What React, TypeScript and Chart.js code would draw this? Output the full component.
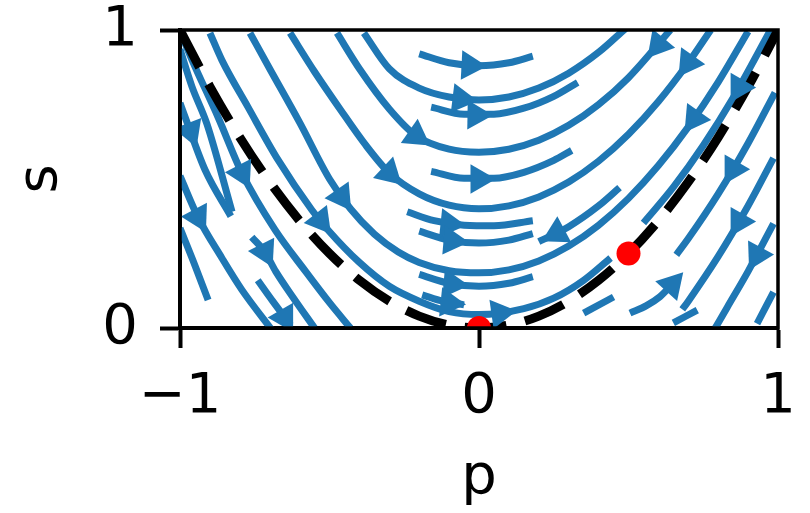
import React, { useEffect, useRef } from 'react';
import { Chart, registerables } from 'chart.js';

Chart.register(...registerables);

type Pt = [number, number];

// ---- axes ----
const xTickValues = [-1, 0, 1];
const xTickLabels = ['−1', '0', '1'];
const yTickValues = [0, 1];
const yTickLabels = ['0', '1'];
const xTitle = 'p';
const yTitle = 's';

// ---- dashed boundary s = p^2 ----
const boundary: Pt[] = [
  [-1, 1], [-0.9, 0.81], [-0.8, 0.64], [-0.7, 0.49], [-0.6, 0.36], [-0.5, 0.25],
  [-0.4, 0.16], [-0.3, 0.09], [-0.2, 0.04], [-0.1, 0.01], [0, 0], [0.1, 0.01],
  [0.2, 0.04], [0.3, 0.09], [0.4, 0.16], [0.5, 0.25], [0.6, 0.36], [0.7, 0.49],
  [0.8, 0.64], [0.9, 0.81], [1, 1],
];

// ---- fixed points (red) ----
const fixedPoints: Pt[] = [[0, 0], [0.5, 0.25]];

// ---- streamline segments (left, outside the boundary) ----
const OLA: Pt[] = [[-1, 0.935], [-0.96, 0.81], [-0.91, 0.685], [-0.826, 0.39]];
const OLB: Pt[] = [[-0.985, 0.96], [-0.96, 0.9], [-0.873, 0.708], [-0.793, 0.52], [-0.682, 0.329], [-0.58, 0.19], [-0.5, 0.085], [-0.43, 0.0]];
const OL5: Pt[] = [[-1, 0.755], [-0.983, 0.708], [-0.916, 0.53], [-0.83, 0.375]];
const OL6: Pt[] = [[-1, 0.51], [-0.94, 0.372], [-0.86, 0.235], [-0.793, 0.128], [-0.69, -0.01]];
const OL7: Pt[] = [[-1, 0.335], [-0.95, 0.21], [-0.906, 0.094]];
const OL4: Pt[] = [[-0.76, 0.305], [-0.716, 0.255], [-0.68, 0.19], [-0.62, 0.1], [-0.55, 0.0]];
const OL8: Pt[] = [[-0.74, 0.16], [-0.69, 0.09], [-0.63, 0.01]];

// ---- inside the boundary: long arcs ----
const U1: Pt[] = [[-0.385, 0.99], [-0.3, 0.87], [-0.2, 0.805], [-0.1, 0.775], [0, 0.765], [0.1, 0.775], [0.2, 0.805], [0.3, 0.855], [0.4, 0.925], [0.49, 1.005]];
const U2: Pt[] = [[-0.475, 0.99], [-0.4, 0.87], [-0.3, 0.735], [-0.21, 0.645], [-0.1, 0.6], [0, 0.59], [0.1, 0.6], [0.2, 0.63], [0.3, 0.68], [0.4, 0.75], [0.5, 0.84], [0.64, 1.0]];
const U3: Pt[] = [[-0.632, 0.99], [-0.55, 0.86], [-0.465, 0.735], [-0.38, 0.615], [-0.3, 0.52], [-0.2, 0.45], [-0.1, 0.412], [0, 0.4], [0.1, 0.41], [0.2, 0.44], [0.3, 0.49], [0.4, 0.56], [0.5, 0.65], [0.6, 0.76], [0.7, 0.89], [0.775, 1.0]];
const U4: Pt[] = [[-0.766, 0.99], [-0.7, 0.87], [-0.6, 0.69], [-0.5, 0.5], [-0.43, 0.4], [-0.35, 0.315], [-0.27, 0.255], [-0.2, 0.22], [-0.1, 0.192], [0, 0.185], [0.1, 0.195], [0.2, 0.225], [0.3, 0.275], [0.4, 0.345], [0.5, 0.435], [0.6, 0.545], [0.7, 0.675], [0.8, 0.825], [0.9, 0.995]];
const U5: Pt[] = [[-0.9, 0.99], [-0.86, 0.899], [-0.773, 0.742], [-0.672, 0.564], [-0.559, 0.396], [-0.505, 0.329], [-0.4, 0.22], [-0.3, 0.14], [-0.2, 0.09], [-0.1, 0.055], [0, 0.045], [0.15, 0.065], [0.25, 0.1], [0.35, 0.16], [0.44, 0.235]];
const U5R: Pt[] = [[0.55, 0.3525], [0.65, 0.4725], [0.75, 0.6125], [0.85, 0.7725], [0.975, 1.0]];

// ---- inside: short centre pieces ----
const C1: Pt[] = [[-0.2, 0.92], [-0.1, 0.89], [0, 0.88], [0.1, 0.89], [0.18, 0.912]];
const C2: Pt[] = [[-0.16, 0.741], [-0.05, 0.7175], [0.05, 0.7175], [0.15, 0.7375], [0.25, 0.7775], [0.33, 0.824]];
const C3: Pt[] = [[-0.16, 0.5256], [-0.05, 0.5025], [0.05, 0.5025], [0.15, 0.5225], [0.25, 0.5625], [0.31, 0.596]];
const C4: Pt[] = [[-0.24, 0.39], [-0.15, 0.36], [-0.05, 0.345], [0.05, 0.343], [0.18, 0.36]];
const C5: Pt[] = [[-0.2, 0.325], [-0.1, 0.295], [0, 0.285], [0.1, 0.295], [0.18, 0.317]];
const C6: Pt[] = [[-0.2, 0.18], [-0.1, 0.15], [0, 0.14], [0.1, 0.15], [0.18, 0.172]];
const C7: Pt[] = [[-0.19, 0.111], [-0.12, 0.0894], [-0.05, 0.0775]];

// ---- right side ----
const RA: Pt[] = [[0.2, 0.29], [0.3, 0.34], [0.4, 0.41], [0.47, 0.471]];
const RO1: Pt[] = [[0.66, 0.2456], [0.7, 0.3], [0.8, 0.45], [0.9, 0.62], [0.99, 0.79]];
const RO2: Pt[] = [[0.68, 0.0624], [0.7, 0.09], [0.8, 0.24], [0.9, 0.41], [0.985, 0.57]];
const RO3: Pt[] = [[0.79, 0.0], [0.83, 0.069], [0.9, 0.19], [0.985, 0.35]];
const RO4: Pt[] = [[0.93, 0.015], [0.985, 0.12]];
const RO5: Pt[] = [[0.505, 0.05], [0.56, 0.075], [0.605, 0.105], [0.645, 0.145]];
const RO6: Pt[] = [[0.65, 0.017], [0.73, 0.06]];
const RO7: Pt[] = [[0.35, 0.05], [0.45, 0.104]];

const streamlines: Pt[][] = [
  OLA, OLB, OL5, OL6, OL7, OL4, OL8,
  U1, U2, U3, U4, U5, U5R,
  C1, C2, C3, C4, C5, C6, C7,
  RA, RO1, RO2, RO3, RO4, RO5, RO6, RO7,
];

// arrowheads: [p, s, direction in degrees, clockwise from up]
const arrows: [number, number, number][] = [
  [-0.793, 0.52, 153], [-0.965, 0.66, 159], [-0.94, 0.372, 152], [-0.716, 0.255, 153], [-0.65, 0.035, 150],
  [-0.06, 0.769, 97],
  [-0.21, 0.645, 125], [0.6, 0.95, 220],
  [-0.3, 0.52, 133], [0.7, 0.89, 215],
  [-0.46, 0.44, 145], [0.72, 0.703, 215],
  [-0.53, 0.36, 142], [0.07, 0.05, 82], [0.87, 0.807, 210],
  [-0.03, 0.881, 93], [-0.01, 0.715, 91], [0.0, 0.5, 90], [-0.1, 0.35, 96],
  [-0.09, 0.293, 95], [-0.09, 0.148, 95], [-0.1, 0.085, 96],
  [0.26, 0.3176, 242], [0.85, 0.5325, 210], [0.87, 0.357, 210], [0.93, 0.245, 208],
  [0.645, 0.145, 42],
];

const BLUE = '#1f77b4';
const FONT = 'DejaVu Sans';

export default function App() {
  const canvasRef = useRef<HTMLCanvasElement | null>(null);

  useEffect(() => {
    document.body.style.margin = '0';
    const canvas = canvasRef.current;
    if (!canvas) return;

    const toXY = (pts: Pt[]) => pts.map(([x, y]) => ({ x, y }));

    const lineSets: any[] = streamlines.map((seg) => ({
      type: 'line',
      data: toXY(seg),
      borderColor: BLUE,
      borderWidth: 7,
      borderCapStyle: 'butt',
      pointRadius: 0,
      fill: false,
      cubicInterpolationMode: 'monotone',
      clip: 0,
      order: 5,
    }));

    const framePlugin = {
      id: 'frame',
      afterDraw(chart: any) {
        const { ctx, chartArea } = chart;
        ctx.save();
        ctx.strokeStyle = '#000';
        ctx.lineWidth = 3.5;
        ctx.strokeRect(chartArea.left, chartArea.top, chartArea.right - chartArea.left, chartArea.bottom - chartArea.top);
        ctx.restore();
      },
    };

    const chart = new Chart(canvas, {
      type: 'line',
      data: {
        datasets: [
          {
            type: 'scatter',
            data: toXY(fixedPoints),
            pointRadius: 12,
            pointBackgroundColor: 'red',
            pointBorderWidth: 0,
            showLine: false,
            clip: 0,
            order: 0,
          } as any,
          {
            type: 'scatter',
            data: arrows.map(([x, y]) => ({ x, y })),
            pointStyle: 'triangle',
            pointRotation: arrows.map((a) => a[2]),
            pointRadius: 17,
            pointBackgroundColor: BLUE,
            pointBorderWidth: 0,
            showLine: false,
            clip: 0,
            order: 3,
          } as any,
          {
            type: 'line',
            data: toXY(boundary),
            borderColor: '#000',
            borderWidth: 9,
            borderDash: [42, 19],
            borderCapStyle: 'butt',
            pointRadius: 0,
            fill: false,
            cubicInterpolationMode: 'monotone',
            clip: 0,
            order: 4,
          } as any,
          ...lineSets,
        ],
      },
      options: {
        responsive: false,
        animation: false,
        devicePixelRatio: 1,
        events: [],
        layout: { padding: { top: 30, right: 32, bottom: 0, left: 0 } },
        plugins: { legend: { display: false }, tooltip: { enabled: false } },
        scales: {
          x: {
            type: 'linear',
            min: -1,
            max: 1,
            afterFit(scale: any) {
              scale.height = 185;
              scale.paddingLeft = 0;
              scale.paddingRight = 0;
            },
            afterBuildTicks(scale: any) { scale.ticks = xTickValues.map((v) => ({ value: v })); },
            ticks: {
              autoSkip: false,
              maxRotation: 0,
              padding: 16,
              color: '#000',
              font: { family: FONT, size: 56 },
              callback: (v: any) => xTickLabels[xTickValues.indexOf(Number(v))] ?? '',
            },
            grid: { drawOnChartArea: false, drawTicks: true, tickLength: 20, tickWidth: 4, tickColor: '#000' },
            border: { display: true, color: '#000', width: 4 },
            title: { display: true, text: xTitle, color: '#000', font: { family: FONT, size: 56 }, padding: { top: 0, bottom: 1 } },
          },
          y: {
            type: 'linear',
            min: 0,
            max: 1,
            afterFit(scale: any) {
              scale.width = 180;
              scale.paddingTop = 0;
              scale.paddingBottom = 0;
            },
            afterBuildTicks(scale: any) { scale.ticks = yTickValues.map((v) => ({ value: v })); },
            ticks: {
              autoSkip: false,
              padding: 22,
              color: '#000',
              font: { family: FONT, size: 56, lineHeight: 1 },
              callback: (v: any) => yTickLabels[yTickValues.indexOf(Number(v))] ?? '',
            },
            grid: { drawOnChartArea: false, drawTicks: true, tickLength: 20, tickWidth: 4, tickColor: '#000' },
            border: { display: true, color: '#000', width: 4 },
            title: { display: true, text: yTitle, color: '#000', font: { family: FONT, size: 56 }, padding: { top: 8, bottom: 0 } },
          },
        },
      } as any,
      plugins: [framePlugin],
    });

    return () => chart.destroy();
  }, []);

  return (
    <div style={{ width: 810, height: 513 }}>
      <canvas ref={canvasRef} width={810} height={513} style={{ display: 'block' }} />
    </div>
  );
}
